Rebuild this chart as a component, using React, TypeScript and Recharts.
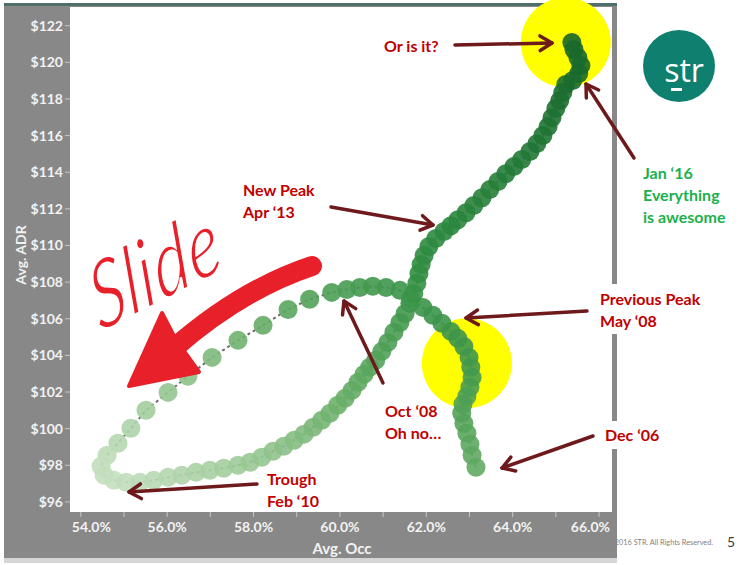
import React from "react";
import { ScatterChart, Scatter, XAxis, YAxis } from "recharts";

// 12-month rolling occupancy (%) and ADR ($), Dec '06 -> early '16
const occupancy = [
  63.15, 63.06, 63.01, 62.94, 62.87, 62.82, 62.85, 62.94, 63.01, 63.06, 63.03, 62.99,
  62.87, 62.73, 62.57, 62.36, 62.15, 61.92, 61.64, 61.39, 61.07, 60.76, 60.46, 60.16,
  59.81, 59.3, 58.8, 58.22, 57.64, 57.04, 56.48, 56.02, 55.51, 55.16, 54.86, 54.61,
  54.47, 54.54, 54.77, 55.05, 55.37, 55.69, 56.02, 56.34, 56.67, 56.99, 57.31, 57.64,
  57.92, 58.19, 58.45, 58.7, 58.94, 59.17, 59.38, 59.58, 59.77, 59.95, 60.12, 60.28,
  60.42, 60.56, 60.69, 60.83, 60.97, 61.11, 61.25, 61.39, 61.51, 61.62, 61.71, 61.78,
  61.83, 61.88, 61.95, 62.06, 62.22, 62.41, 62.57, 62.73, 62.92, 63.1, 63.29, 63.47,
  63.66, 63.84, 64.03, 64.21, 64.4, 64.56, 64.7, 64.82, 64.91, 65.0, 65.09, 65.16,
  65.23, 65.39, 65.53, 65.58, 65.51, 65.42, 65.37,
];
const adr = [
  97.89, 98.55, 99.15, 99.75, 100.29, 100.84, 101.33, 101.77, 102.26, 102.8, 103.35, 103.89,
  104.49, 104.93, 105.31, 105.75, 106.19, 106.62, 107.11, 107.55, 107.71, 107.77, 107.71, 107.6,
  107.44, 107.06, 106.51, 105.64, 104.82, 103.89, 102.86, 101.98, 101.0, 100.02, 99.2, 98.55,
  97.95, 97.46, 97.18, 97.07, 97.07, 97.18, 97.35, 97.46, 97.62, 97.73, 97.84, 98.0,
  98.17, 98.44, 98.77, 99.04, 99.37, 99.7, 100.08, 100.46, 100.84, 101.28, 101.66, 102.09,
  102.53, 102.97, 103.35, 103.73, 104.22, 104.71, 105.26, 105.8, 106.29, 106.84, 107.38, 107.93,
  108.47, 108.96, 109.45, 109.94, 110.38, 110.76, 111.08, 111.41, 111.79, 112.18, 112.61, 113.05,
  113.49, 113.92, 114.31, 114.69, 115.13, 115.56, 116.0, 116.49, 116.98, 117.48, 117.91, 118.35,
  118.79, 119.01, 119.39, 119.83, 120.26, 120.7, 121.08,
];

const occTicks = [54, 55, 56, 57, 58, 59, 60, 61, 62, 63, 64, 65, 66];
const adrTicks = [96, 98, 100, 102, 104, 106, 108, 110, 112, 114, 116, 118, 120, 122];

// highlighted spots (occ %, adr $)
const highlightOcc = [65.23, 62.94];
const highlightAdr = [121.08, 103.57];

const points = occupancy.map((o, i) => ({ occ: o, adr: adr[i] }));

const xDomain = [53.75, 66.3];
const yDomain = [95.45, 123.02];
const plot = { left: 70, top: 7, right: 612, bottom: 512 };
const px = (v: number) =>
  plot.left + ((v - xDomain[0]) / (xDomain[1] - xDomain[0])) * (plot.right - plot.left);
const py = (v: number) =>
  plot.bottom - ((v - yDomain[0]) / (yDomain[1] - yDomain[0])) * (plot.bottom - plot.top);

const FONT = "Lato, 'Open Sans', sans-serif";
const RED = "#c00000";
const MAROON = "#6e1a1c";

// colour by RevPAR (occ * adr)
const stops: [number, number[]][] = [
  [0, [198, 224, 192]],
  [0.3, [108, 176, 106]],
  [0.55, [48, 142, 66]],
  [1, [24, 104, 44]],
];
function revparColor(o: number, a: number) {
  const t = Math.max(0, Math.min(1, ((o * a) / 100 - 53) / 26));
  for (let i = 1; i < stops.length; i++) {
    if (t <= stops[i][0]) {
      const [t0, c0] = stops[i - 1];
      const [t1, c1] = stops[i];
      const k = (t - t0) / (t1 - t0);
      const c = c0.map((v, j) => Math.round(v + (c1[j] - v) * k));
      return `rgb(${c[0]},${c[1]},${c[2]})`;
    }
  }
  return "rgb(24,104,44)";
}

const Dot = (props: any) => {
  const { cx, cy, payload } = props;
  if (cx == null || cy == null) return <g />;
  return (
    <circle cx={cx} cy={cy} r={9.5} fill={revparColor(payload.occ, payload.adr)} fillOpacity={0.9} />
  );
};

const OccTick = (props: any) => {
  const { x, y, payload } = props;
  const v = payload.value;
  if (v % 2 !== 0) return <g />;
  let anchor = "middle";
  let dx = 0;
  if (v === 54) {
    anchor = "start";
    dx = -9;
  }
  if (v === 66) {
    anchor = "end";
    dx = 11;
  }
  return (
    <text x={x + dx} y={y} dy={11} textAnchor={anchor} fill="#f2f2f2" fontSize={14} fontWeight={700} fontFamily={FONT}>
      {v.toFixed(1)}%
    </text>
  );
};

const AdrTick = (props: any) => {
  const { x, y, payload } = props;
  return (
    <text x={x} y={y} dy={5} textAnchor="end" fill="#f2f2f2" fontSize={14} fontWeight={700} fontFamily={FONT}>
      ${payload.value}
    </text>
  );
};

const notes = [
  { lines: ["Or is it?"], x: 384, y: 45, color: RED },
  { lines: ["New Peak", "Apr \u201813"], x: 243, y: 189, color: RED },
  { lines: ["Jan \u201816", "Everything", "is awesome"], x: 643, y: 172, color: "#20b04b" },
  { lines: ["Previous Peak", "May \u201808"], x: 600, y: 298, color: RED },
  { lines: ["Oct \u201808", "Oh no\u2026"], x: 385, y: 410, color: RED },
  { lines: ["Dec \u201806"], x: 605, y: 434, color: RED },
  { lines: ["Trough", "Feb \u201810"], x: 267, y: 478, color: RED },
];

const arrows = [
  [455, 45, 552, 43],
  [331, 207, 433, 225],
  [634, 158, 586, 84],
  [587, 311, 466, 318],
  [383, 383, 344, 301],
  [593, 436, 502, 468],
  [257, 484, 129, 492],
];

function Arrow({ a }: { a: number[] }) {
  const [x1, y1, x2, y2] = a;
  const ang = Math.atan2(y2 - y1, x2 - x1);
  const len = 14;
  const p1 = [x2 - len * Math.cos(ang - 0.55), y2 - len * Math.sin(ang - 0.55)];
  const p2 = [x2 - len * Math.cos(ang + 0.55), y2 - len * Math.sin(ang + 0.55)];
  return (
    <g stroke={MAROON} strokeWidth={3.5} fill="none" strokeLinecap="round" strokeLinejoin="round">
      <line x1={x1} y1={y1} x2={x2} y2={y2} />
      <polyline points={`${p1[0]},${p1[1]} ${x2},${y2} ${p2[0]},${p2[1]}`} />
    </g>
  );
}

export default function App() {
  const layer: React.CSSProperties = { position: "absolute", left: 0, top: 0 };
  return (
    <div style={{ position: "absolute", left: 0, top: 0, width: 740, height: 565, background: "#fff", fontFamily: FONT }}>
      <svg width={740} height={565} style={layer}>
        <text x={713} y={545} textAnchor="end" fontSize={7.3} fill="#7f7f7f" fontFamily={FONT}>
          © 2016 STR. All Rights Reserved.
        </text>
        <text x={727} y={547} fontSize={14} fill="#404040" fontFamily={FONT}>5</text>
        <rect x={4} y={558} width={613} height={5} fill="#d6d6d6" />
        <rect x={4} y={4} width={613} height={554} fill="#888888" />
        <rect x={4} y={3} width={613} height={3} fill="#4f6f6d" />
        <rect x={plot.left} y={plot.top} width={plot.right - plot.left} height={plot.bottom - plot.top} fill="#ffffff" />
        {highlightOcc.map((o, i) => (
          <circle key={i} cx={px(o)} cy={py(highlightAdr[i])} r={45} fill="#ffff00" />
        ))}
        <circle cx={679} cy={66} r={36} fill="#0f8070" />
        <text x={684} y={82} textAnchor="middle" fontSize={32} fill="#fff" fontFamily="'Open Sans', sans-serif">str</text>
        <rect x={671} y={88} width={11} height={3} fill="#fff" />
        <text
          transform="translate(20,255) rotate(-90)"
          textAnchor="middle"
          dominantBaseline="central"
          fontSize={14}
          fontWeight={700}
          fill="#f2f2f2"
          fontFamily={FONT}
        >
          Avg. ADR
        </text>
        <text x={342} y={548} textAnchor="middle" dominantBaseline="central" fontSize={15} fontWeight={700} fill="#f2f2f2" fontFamily={FONT}>
          Avg. Occ
        </text>
      </svg>

      <div style={layer}>
        <ScatterChart width={740} height={565} margin={{ top: 7, right: 128, bottom: 13, left: 10 }}>
          <XAxis
            type="number"
            dataKey="occ"
            domain={xDomain}
            ticks={occTicks}
            interval={0}
            allowDataOverflow
            axisLine={false}
            tickLine={{ stroke: "#c8c8c8" }}
            tickSize={5}
            tickMargin={4}
            height={40}
            tick={<OccTick />}
          />
          <YAxis
            type="number"
            dataKey="adr"
            domain={yDomain}
            ticks={adrTicks}
            interval={0}
            allowDataOverflow
            axisLine={false}
            tickLine={{ stroke: "#c8c8c8" }}
            tickSize={5}
            tickMargin={2}
            width={60}
            tick={<AdrTick />}
          />
          <Scatter
            data={points}
            line={{ stroke: "#6b6b6b", strokeWidth: 2, strokeDasharray: "3 3" }}
            lineType="joint"
            shape={<Dot />}
            isAnimationActive={false}
          />
        </ScatterChart>
      </div>

      <svg width={740} height={565} style={{ ...layer, pointerEvents: "none" }}>
        <rect x={596} y={284} width={120} height={50} fill="#fff" />
        <rect x={598} y={421} width={70} height={28} fill="#fff" />
        {/* hand-drawn "Slide" + arrow */}
        <text
          transform="translate(100,333) rotate(-27) skewX(-12) scale(0.9,1.15)"
          fontSize={80}
          fontStyle="italic"
          fill="#e8202a"
          stroke="#ffffff"
          strokeWidth={2.6}
          fontFamily={FONT}
        >
          Slide
        </text>
        <path d="M312,266 Q240,290 172,350" stroke="#e8202a" strokeWidth={20} fill="none" strokeLinecap="round" />
        <path d="M129,386 L162,313 L176,340 L199,372 Z" fill="#e8202a" stroke="#e8202a" strokeWidth={4} strokeLinejoin="round" />
        {arrows.map((a, i) => (
          <Arrow key={i} a={a} />
        ))}
        {notes.map((n, i) => (
          <text key={i} fontSize={16} fontWeight={700} fill={n.color} fontFamily={FONT} dominantBaseline="central">
            {n.lines.map((l, j) => (
              <tspan key={j} x={n.x} y={n.y + j * 22}>
                {l}
              </tspan>
            ))}
          </text>
        ))}
      </svg>
    </div>
  );
}
